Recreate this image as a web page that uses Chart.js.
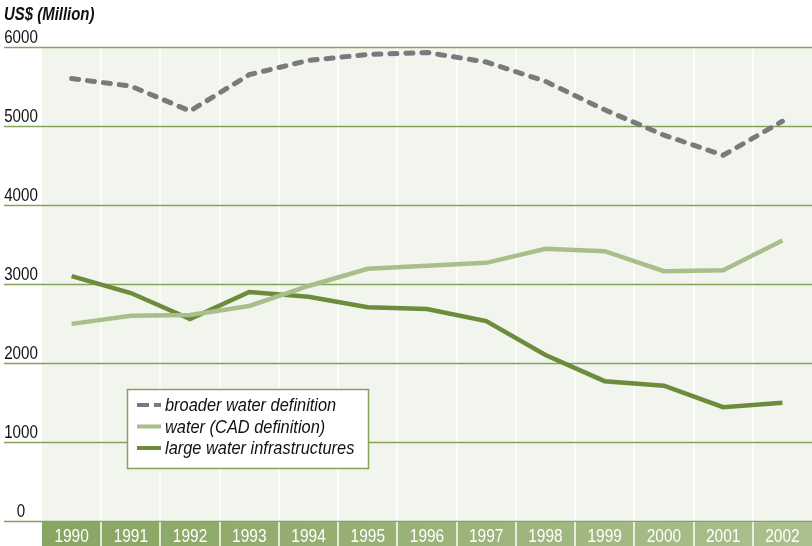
<!DOCTYPE html>
<html>
<head>
<meta charset="utf-8">
<script src="https://cdn.jsdelivr.net/npm/chart.js@4/dist/chart.umd.min.js"></script>
<style>
  html, body { margin: 0; padding: 0; background: #fff; }
  #wrap { width: 812px; height: 546px; position: relative; }
</style>
</head>
<body>
<div id="wrap"><canvas id="chart"></canvas></div>
<script>
const years = ["1990", "1991", "1992", "1993", "1994", "1995", "1996", "1997", "1998", "1999", "2000", "2001", "2002"];
const broader = [5600, 5505, 5190, 5650, 5830, 5905, 5930, 5810, 5565, 5205, 4885, 4630, 5060];
const cadWater = [2495, 2598, 2608, 2722, 2975, 3192, 3230, 3268, 3445, 3415, 3162, 3175, 3550];
const largeInfra = [3100, 2886, 2557, 2899, 2838, 2706, 2684, 2530, 2101, 1770, 1712, 1440, 1496];
const yTicks = [0, 1000, 2000, 3000, 4000, 5000, 6000];

const FONT = '"Liberation Sans", Arial, sans-serif';
const GRID_GREEN = "#86a35c";

// condensed text: squeeze a normal sans horizontally
function narrowText(ctx, text, x, y, font, sx, align) {
  ctx.save();
  ctx.font = font;
  ctx.textAlign = align || "left";
  ctx.translate(x, y);
  ctx.scale(sx, 1);
  ctx.fillText(text, 0, 0);
  ctx.restore();
}

const decor = {
  id: "decor",
  beforeDatasetsDraw(chart) {
    const { ctx, chartArea: a, scales: { x, y } } = chart;
    ctx.save();
    ctx.fillStyle = "#f2f4ee";
    ctx.fillRect(a.left, a.top, a.right - a.left, a.bottom - a.top);
    const half = (x.getPixelForValue(1) - x.getPixelForValue(0)) / 2;
    ctx.strokeStyle = "#ffffff";
    ctx.lineWidth = 1.5;
    years.forEach((_, i) => {
      const px = Math.round(x.getPixelForValue(i) + half);
      if (px >= a.right - 1) return;
      ctx.beginPath();
      ctx.moveTo(px, a.top);
      ctx.lineTo(px, a.bottom);
      ctx.stroke();
    });
    ctx.strokeStyle = GRID_GREEN;
    ctx.lineWidth = 1.5;
    yTicks.forEach(v => {
      const py = Math.round(y.getPixelForValue(v)) + 0.5;
      ctx.beginPath();
      ctx.moveTo(4, py);
      ctx.lineTo(a.right, py);
      ctx.stroke();
    });
    ctx.restore();
  },
  afterDatasetsDraw(chart) {
    const { ctx, chartArea: a, scales: { x, y } } = chart;
    ctx.save();
    ctx.fillStyle = "#111111";
    ctx.textBaseline = "alphabetic";
    yTicks.forEach(v => {
      narrowText(ctx, String(v), 21, y.getPixelForValue(v) - 4.5, "18px " + FONT, 0.84, "center");
    });
    narrowText(ctx, "US$ (Million)", 4, 20, "italic bold 18px " + FONT, 0.83, "left");

    // year band
    const bandTop = a.bottom + 1;
    const bandH = chart.height - bandTop;
    const grad = ctx.createLinearGradient(a.left, 0, a.right, 0);
    grad.addColorStop(0, "#88a562");
    grad.addColorStop(1, "#abc08e");
    ctx.fillStyle = grad;
    ctx.fillRect(a.left, bandTop, a.right - a.left, bandH);
    const half = (x.getPixelForValue(1) - x.getPixelForValue(0)) / 2;
    ctx.strokeStyle = "#ffffff";
    ctx.lineWidth = 1.5;
    years.forEach((_, i) => {
      const px = Math.round(x.getPixelForValue(i) + half);
      if (px >= a.right - 1) return;
      ctx.beginPath();
      ctx.moveTo(px, bandTop);
      ctx.lineTo(px, chart.height);
      ctx.stroke();
    });
    ctx.fillStyle = "#ffffff";
    years.forEach((yr, i) => {
      narrowText(ctx, yr, x.getPixelForValue(i), 542, "18px " + FONT, 0.86, "center");
    });

    // legend box
    const lx = 127, ly = 389, lw = 241, lh = 79;
    ctx.fillStyle = "#ffffff";
    ctx.fillRect(lx, ly, lw, lh);
    ctx.strokeStyle = GRID_GREEN;
    ctx.lineWidth = 1.5;
    ctx.strokeRect(lx + 0.5, ly + 0.5, lw, lh);
    chart.data.datasets.forEach((ds, i) => {
      const cy = ly + 16 + i * 21.5;
      ctx.strokeStyle = ds.borderColor;
      ctx.lineWidth = 4;
      ctx.lineCap = "butt";
      ctx.setLineDash(ds.borderDash && ds.borderDash.length ? [12, 5] : []);
      ctx.beginPath();
      ctx.moveTo(137, cy);
      ctx.lineTo(161, cy);
      ctx.stroke();
      ctx.setLineDash([]);
      ctx.fillStyle = "#111111";
      narrowText(ctx, ds.label, 165, cy + 6, "italic 18px " + FONT, 0.91, "left");
    });
    ctx.restore();
  }
};

new Chart(document.getElementById("chart"), {
  type: "line",
  data: {
    labels: years,
    datasets: [
      {
        label: "broader water definition",
        data: broader,
        borderColor: "#7a7a7a",
        borderWidth: 5,
        borderDash: [7, 9],
        borderCapStyle: "round",
        pointRadius: 0,
        tension: 0
      },
      {
        label: "water (CAD definition)",
        data: cadWater,
        borderColor: "#a9bf8b",
        borderWidth: 4.5,
        pointRadius: 0,
        tension: 0
      },
      {
        label: "large water infrastructures",
        data: largeInfra,
        borderColor: "#6c8c3c",
        borderWidth: 4.5,
        pointRadius: 0,
        tension: 0
      }
    ]
  },
  options: {
    responsive: true,
    maintainAspectRatio: false,
    animation: false,
    devicePixelRatio: 1,
    layout: { padding: { left: 42, right: 0, top: 47, bottom: 25 } },
    scales: {
      x: { display: false, offset: true },
      y: { display: false, min: 0, max: 6000 }
    },
    plugins: {
      legend: { display: false },
      tooltip: { enabled: false }
    }
  },
  plugins: [decor]
});
</script>
</body>
</html>
